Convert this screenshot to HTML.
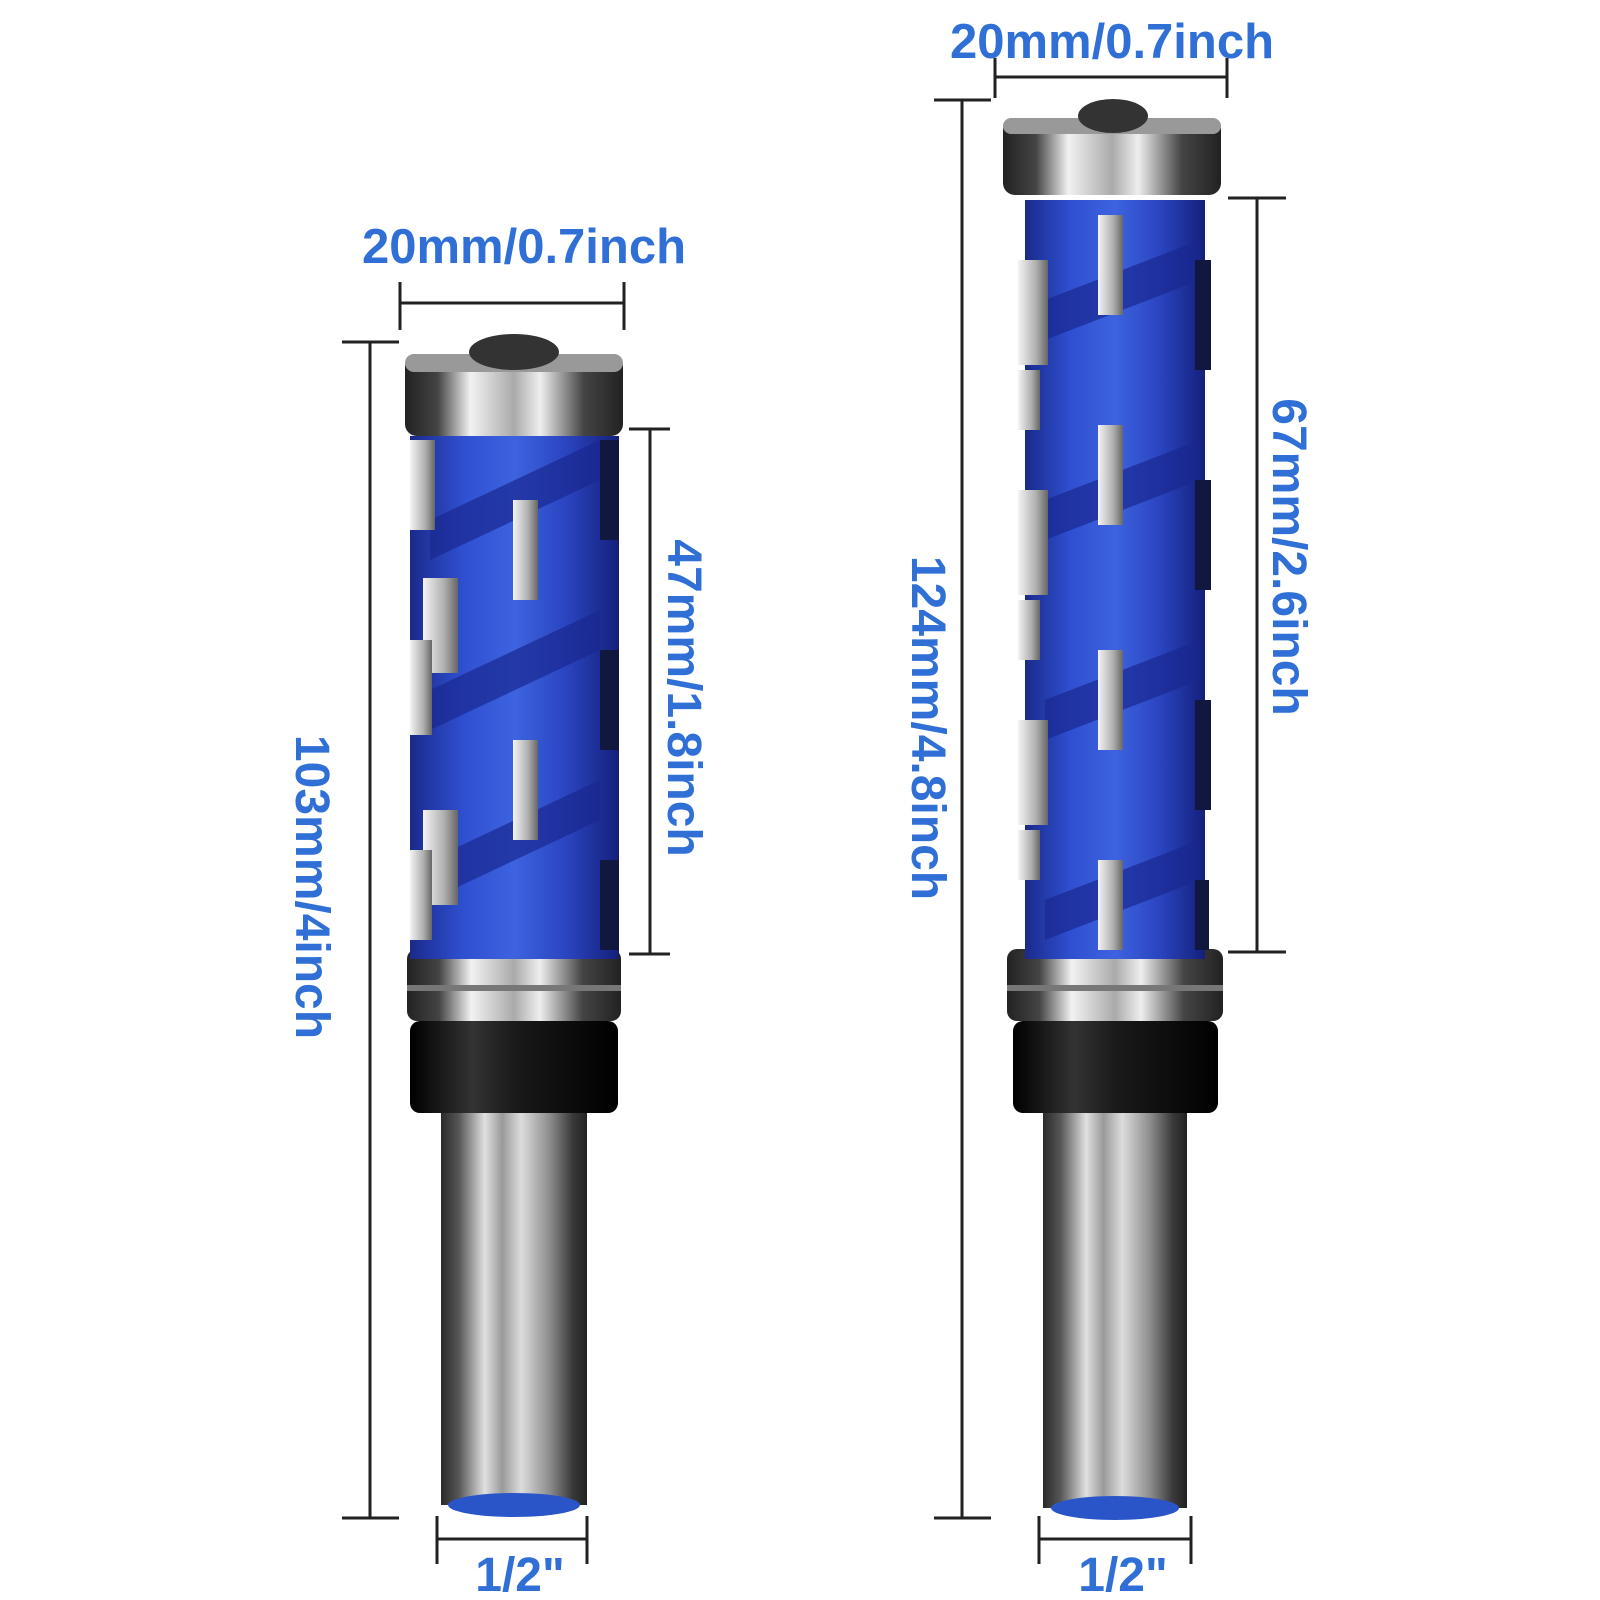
<!DOCTYPE html>
<html><head><meta charset="utf-8"><style>
html,body{margin:0;padding:0;background:#fff;}
svg{display:block}
text{font-family:"Liberation Sans",sans-serif;font-weight:bold;fill:#2f6fd6;}
</style></head><body>
<svg width="1600" height="1600" viewBox="0 0 1600 1600" xmlns="http://www.w3.org/2000/svg">
<defs>
<linearGradient id="steel" x1="0" x2="1" y1="0" y2="0">
<stop offset="0" stop-color="#2a2a2a"/><stop offset="0.12" stop-color="#555"/><stop offset="0.3" stop-color="#e0e0e0"/><stop offset="0.42" stop-color="#9a9a9a"/><stop offset="0.55" stop-color="#dcdcdc"/><stop offset="0.75" stop-color="#8a8a8a"/><stop offset="0.9" stop-color="#3a3a3a"/><stop offset="1" stop-color="#222"/>
</linearGradient>
<linearGradient id="ring" x1="0" x2="1" y1="0" y2="0">
<stop offset="0" stop-color="#222"/><stop offset="0.15" stop-color="#444"/><stop offset="0.3" stop-color="#f2f2f2"/><stop offset="0.5" stop-color="#aaa"/><stop offset="0.62" stop-color="#eee"/><stop offset="0.82" stop-color="#444"/><stop offset="1" stop-color="#222"/>
</linearGradient>
<linearGradient id="blue" x1="0" x2="1" y1="0" y2="0">
<stop offset="0" stop-color="#1a2a8a"/><stop offset="0.25" stop-color="#2f4fd0"/><stop offset="0.5" stop-color="#3d63e0"/><stop offset="0.75" stop-color="#2a44c0"/><stop offset="1" stop-color="#14207a"/>
</linearGradient>
<linearGradient id="black" x1="0" x2="1" y1="0" y2="0">
<stop offset="0" stop-color="#000"/><stop offset="0.3" stop-color="#333"/><stop offset="0.5" stop-color="#1a1a1a"/><stop offset="1" stop-color="#000"/>
</linearGradient>
<linearGradient id="insert" x1="0" x2="1" y1="0" y2="0">
<stop offset="0" stop-color="#f4f4f4"/><stop offset="0.6" stop-color="#b0b0b0"/><stop offset="1" stop-color="#666"/>
</linearGradient>
</defs>

<!-- LEFT BIT -->
<g>
<rect x="441" y="1110" width="146" height="395" fill="url(#steel)"/>
<ellipse cx="514" cy="1505" rx="66" ry="12" fill="#2a55c8"/>
<rect x="410" y="1021" width="208" height="92" rx="10" fill="url(#black)"/>
<rect x="407" y="949" width="214" height="72" rx="10" fill="url(#ring)"/>
<rect x="407" y="985" width="214" height="6" fill="#777"/>
<rect x="410" y="436" width="209" height="523" fill="url(#blue)"/>
<g fill="#1a2890" opacity="0.7">
<polygon points="430,520 600,440 600,480 430,560"/>
<polygon points="430,690 600,610 600,650 430,730"/>
<polygon points="430,860 600,780 600,820 430,900"/>
</g>
<g fill="url(#insert)">
<rect x="410" y="440" width="25" height="90"/><rect x="513" y="500" width="25" height="100"/>
<rect x="423" y="578" width="35" height="95"/><rect x="410" y="640" width="22" height="95"/>
<rect x="513" y="740" width="25" height="100"/><rect x="423" y="810" width="35" height="95"/>
<rect x="410" y="850" width="22" height="90"/>
</g>
<g fill="#101840"><rect x="600" y="440" width="19" height="100"/><rect x="600" y="650" width="19" height="100"/><rect x="600" y="860" width="19" height="90"/></g>
<rect x="405" y="354" width="218" height="82" rx="12" fill="url(#ring)"/>
<rect x="405" y="354" width="218" height="18" rx="9" fill="#999"/>
<ellipse cx="514" cy="352" rx="45" ry="18" fill="#333"/>
</g>

<!-- RIGHT BIT -->
<g>
<rect x="1043" y="1110" width="144" height="398" fill="url(#steel)"/>
<ellipse cx="1115" cy="1508" rx="64" ry="12" fill="#2a55c8"/>
<rect x="1013" y="1021" width="205" height="92" rx="10" fill="url(#black)"/>
<rect x="1007" y="949" width="216" height="72" rx="10" fill="url(#ring)"/>
<rect x="1007" y="985" width="216" height="6" fill="#777"/>
<rect x="1025" y="200" width="180" height="759" fill="url(#blue)"/>
<g fill="#1a2890" opacity="0.7">
<polygon points="1045,300 1200,240 1200,280 1045,340"/>
<polygon points="1045,500 1200,440 1200,480 1045,540"/>
<polygon points="1045,700 1200,640 1200,680 1045,740"/>
<polygon points="1045,900 1200,840 1200,880 1045,940"/>
</g>
<g fill="url(#insert)">
<rect x="1018" y="260" width="30" height="105"/><rect x="1018" y="370" width="22" height="60"/>
<rect x="1098" y="215" width="25" height="100"/><rect x="1098" y="425" width="25" height="100"/>
<rect x="1018" y="490" width="30" height="105"/><rect x="1018" y="600" width="22" height="60"/>
<rect x="1098" y="650" width="25" height="100"/><rect x="1018" y="720" width="30" height="105"/>
<rect x="1018" y="830" width="22" height="50"/><rect x="1098" y="860" width="25" height="90"/>
</g>
<g fill="#101840"><rect x="1195" y="260" width="16" height="110"/><rect x="1195" y="480" width="16" height="110"/><rect x="1195" y="700" width="16" height="110"/><rect x="1195" y="880" width="14" height="70"/></g>
<rect x="1003" y="118" width="218" height="77" rx="12" fill="url(#ring)"/>
<rect x="1003" y="118" width="218" height="16" rx="8" fill="#999"/>
<ellipse cx="1113" cy="116" rx="35" ry="17" fill="#333"/>
</g>

<!-- DIMENSION LINES -->
<g stroke="#222" stroke-width="3" fill="none">
<path d="M400 303H624M400 282V330M624 282V330"/>
<path d="M995 77H1227M995 58V98M1227 58V98"/>
<path d="M370 342V1518M342 342H399M342 1518H399"/>
<path d="M650 429V954M629 429H670M629 954H670"/>
<path d="M962 100V1518M934 100H991M934 1518H991"/>
<path d="M1257 198V952M1228 198H1286M1228 952H1286"/>
<path d="M437 1539H587M437 1516V1564M587 1516V1564"/>
<path d="M1039 1539H1191M1039 1516V1564M1191 1516V1564"/>
</g>

<text x="524" y="263" font-size="49" text-anchor="middle">20mm/0.7inch</text>
<text x="1112" y="58" font-size="49" text-anchor="middle">20mm/0.7inch</text>
<text x="520" y="1591" font-size="48" text-anchor="middle">1/2"</text>
<text x="1123" y="1591" font-size="48" text-anchor="middle">1/2"</text>
<text transform="translate(296,887) rotate(90)" font-size="48" text-anchor="middle">103mm/4inch</text>
<text transform="translate(668,698) rotate(90)" font-size="48" text-anchor="middle">47mm/1.8inch</text>
<text transform="translate(912,728) rotate(90)" font-size="48" text-anchor="middle">124mm/4.8inch</text>
<text transform="translate(1273,557) rotate(90)" font-size="48" text-anchor="middle">67mm/2.6inch</text>
</svg>
</body></html>
